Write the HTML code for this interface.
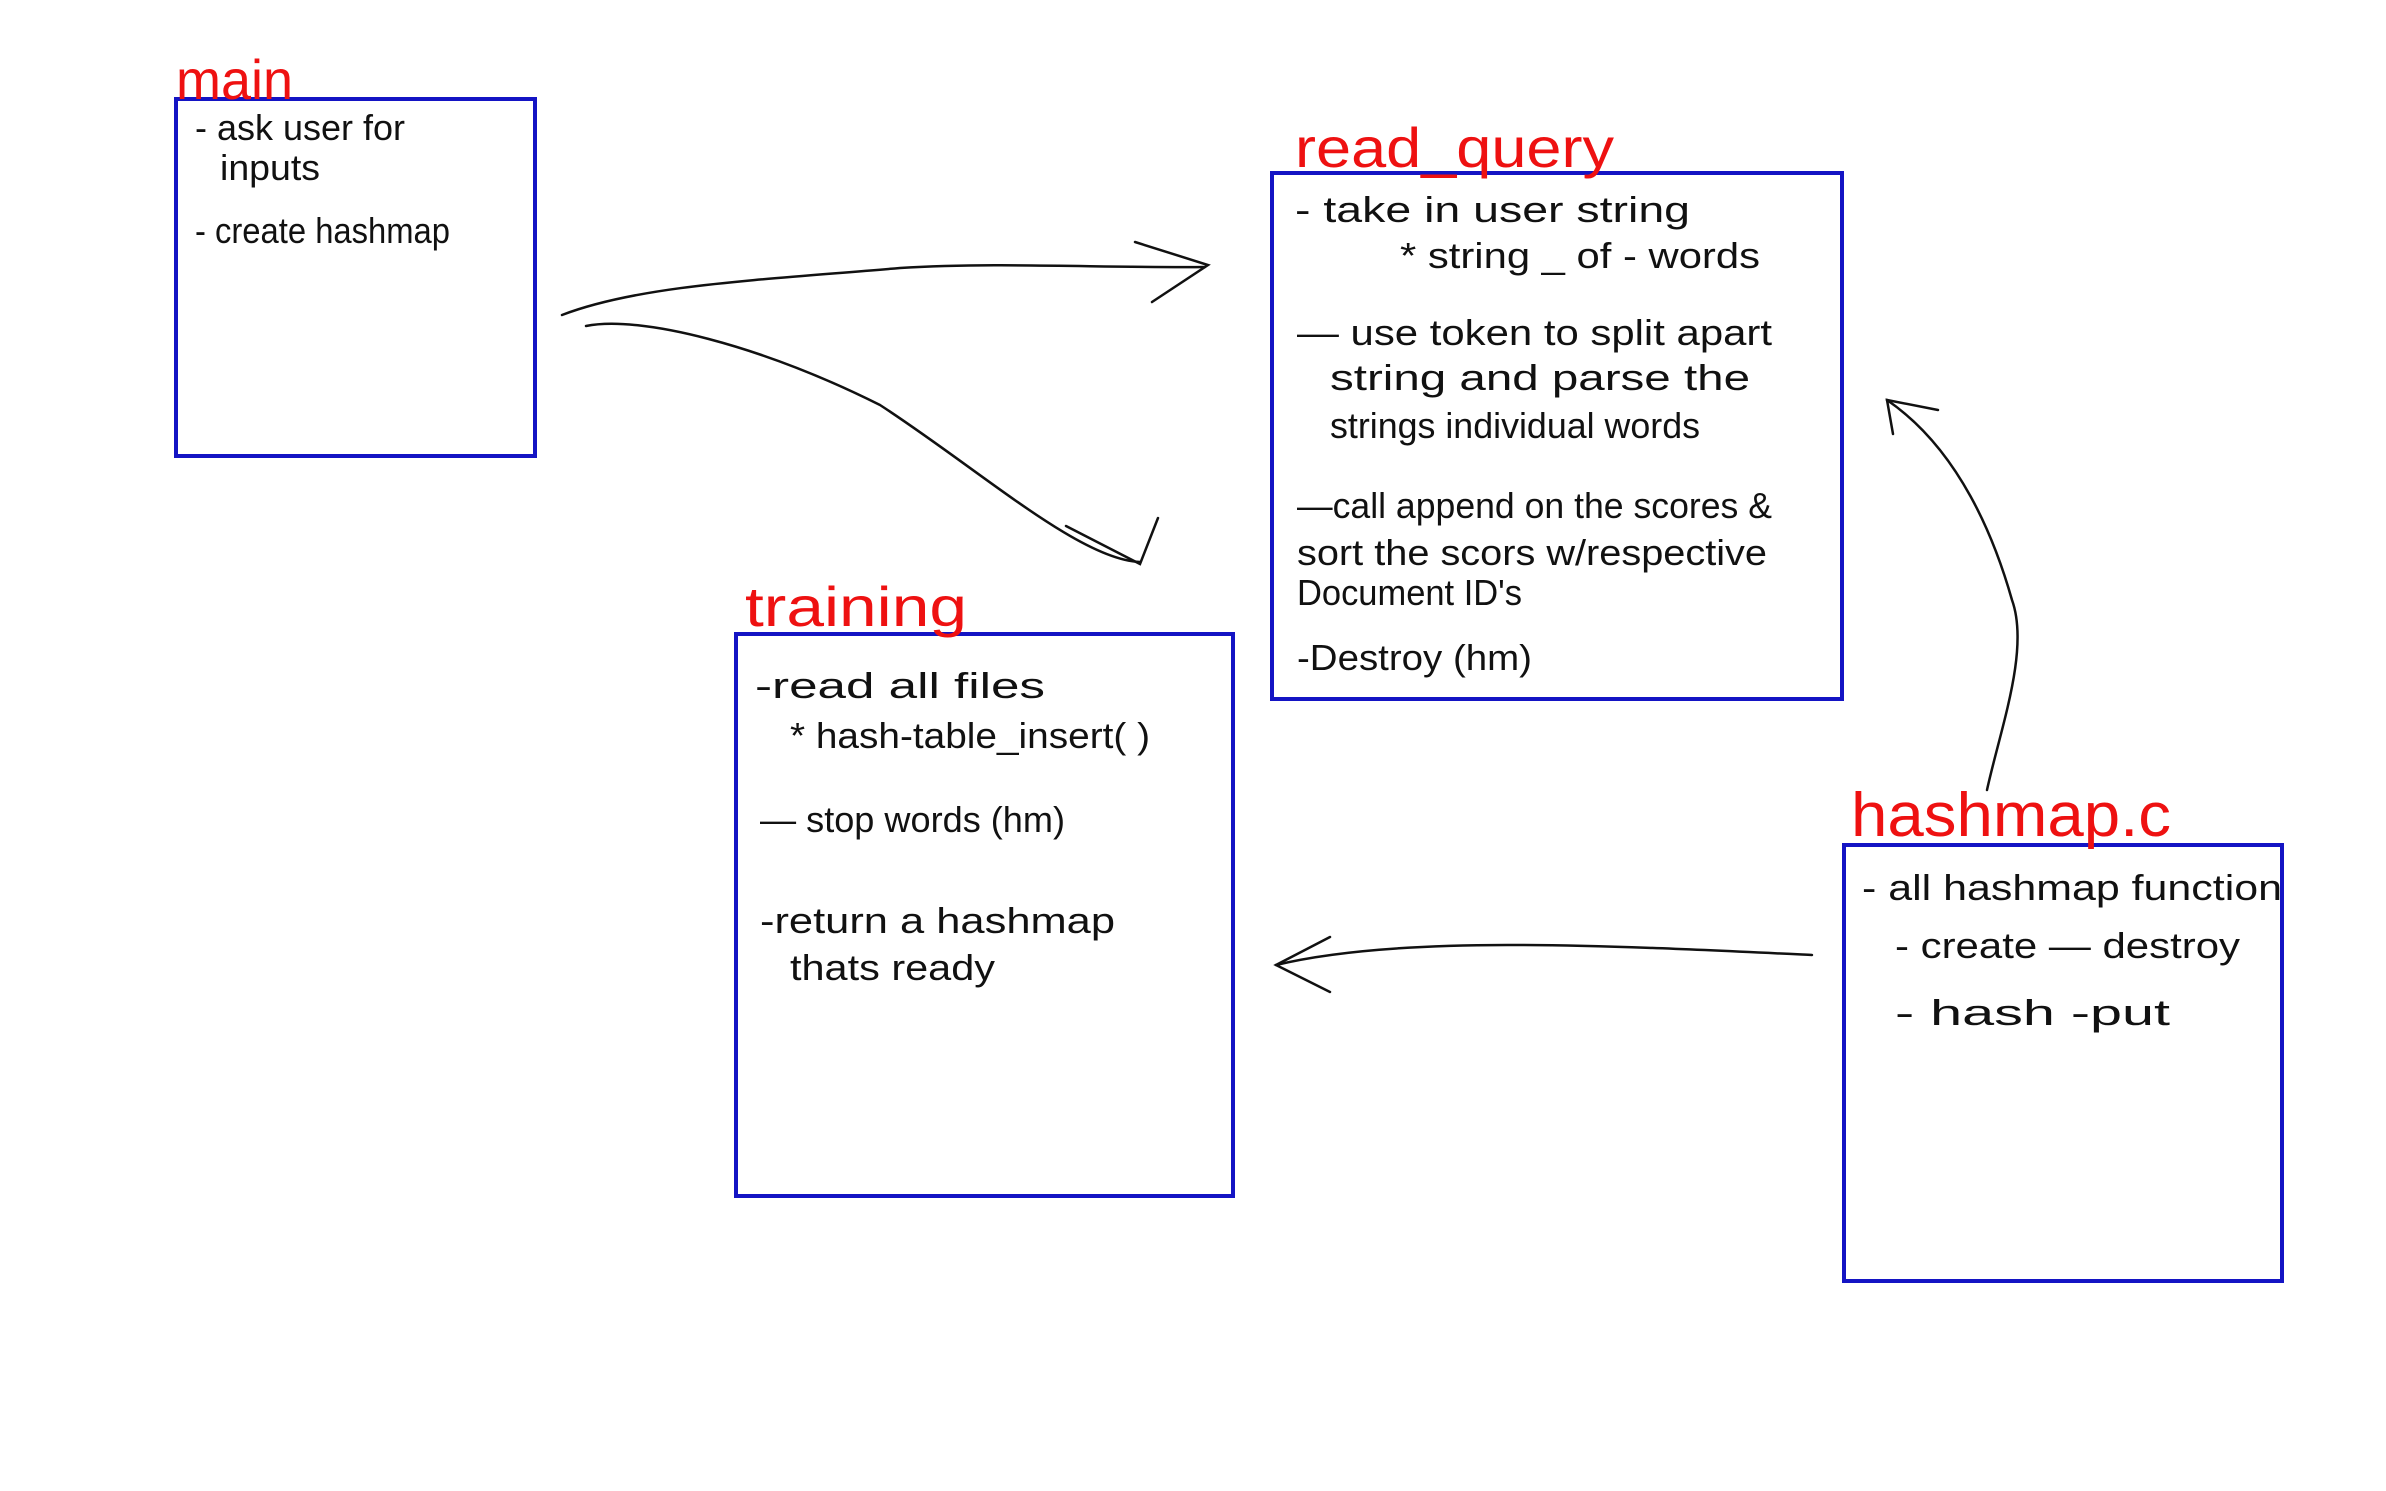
<!DOCTYPE html>
<html><head><meta charset="utf-8"><style>
html,body{margin:0;padding:0;background:#fff;}
svg{display:block}
text{font-family:"Liberation Sans",sans-serif;}
.l{fill:#ee1111;font-size:56px;}
.t{fill:#111;font-size:36px;}
</style></head><body>
<svg width="2386" height="1491" viewBox="0 0 2386 1491" xmlns="http://www.w3.org/2000/svg">
<g fill="none" stroke="#1414c4" stroke-width="4">
<rect x="176" y="99" width="359" height="357"/>
<rect x="1272" y="173" width="570" height="526"/>
<rect x="736" y="634" width="497" height="562"/>
<rect x="1844" y="845" width="438" height="436"/>
</g>
<g fill="none" stroke="#111" stroke-width="2.5" stroke-linecap="round">
<path d="M562,315 C640,285 760,280 900,268 C1000,262 1100,268 1205,267"/>
<path d="M1135,242 L1208,265 L1152,302"/>
<path d="M586,326 C640,315 760,345 880,405 C980,470 1080,560 1140,562"/>
<path d="M1066,526 L1140,564 L1158,518"/>
<path d="M1987,790 C2000,730 2030,650 2012,600 C1995,540 1960,450 1887,400"/>
<path d="M1938,410 L1887,400 L1893,434"/>
<path d="M1812,955 C1600,945 1400,935 1276,965"/>
<path d="M1330,937 L1276,965 L1330,992"/>
</g>
<text class="l" x="176" y="99" textLength="117" lengthAdjust="spacingAndGlyphs">main</text>
<text class="l" x="1295" y="167" textLength="319" lengthAdjust="spacingAndGlyphs">read_query</text>
<text class="l" x="745" y="626" textLength="222" lengthAdjust="spacingAndGlyphs">training</text>
<text class="l" x="1851" y="836" textLength="320" lengthAdjust="spacingAndGlyphs" style="font-size:62px">hashmap.c</text>
<g class="t">
<text x="195" y="140" textLength="210" lengthAdjust="spacingAndGlyphs">- ask user for</text>
<text x="220" y="180" textLength="100" lengthAdjust="spacingAndGlyphs">inputs</text>
<text x="195" y="243" textLength="255" lengthAdjust="spacingAndGlyphs">- create hashmap</text>
<text x="1295" y="222" textLength="395" lengthAdjust="spacingAndGlyphs">- take in user string</text>
<text x="1400" y="268" textLength="360" lengthAdjust="spacingAndGlyphs">* string _ of - words</text>
<text x="1297" y="345" textLength="475" lengthAdjust="spacingAndGlyphs">— use token to split apart</text>
<text x="1330" y="390" textLength="420" lengthAdjust="spacingAndGlyphs">string and parse the</text>
<text x="1330" y="438" textLength="370" lengthAdjust="spacingAndGlyphs">strings individual words</text>
<text x="1297" y="518" textLength="475" lengthAdjust="spacingAndGlyphs">—call append on the scores &amp;</text>
<text x="1297" y="565" textLength="470" lengthAdjust="spacingAndGlyphs">sort the scors w/respective</text>
<text x="1297" y="605" textLength="225" lengthAdjust="spacingAndGlyphs">Document ID's</text>
<text x="1297" y="670" textLength="235" lengthAdjust="spacingAndGlyphs">-Destroy (hm)</text>
<text x="755" y="698" textLength="290" lengthAdjust="spacingAndGlyphs">-read all files</text>
<text x="790" y="748" textLength="360" lengthAdjust="spacingAndGlyphs">* hash-table_insert( )</text>
<text x="760" y="832" textLength="305" lengthAdjust="spacingAndGlyphs">— stop words (hm)</text>
<text x="760" y="933" textLength="355" lengthAdjust="spacingAndGlyphs">-return a hashmap</text>
<text x="790" y="980" textLength="205" lengthAdjust="spacingAndGlyphs">thats ready</text>
<text x="1862" y="900" textLength="420" lengthAdjust="spacingAndGlyphs">- all hashmap function</text>
<text x="1895" y="958" textLength="345" lengthAdjust="spacingAndGlyphs">- create — destroy</text>
<text x="1895" y="1025" textLength="275" lengthAdjust="spacingAndGlyphs">- hash  -put</text>
</g>
</svg>
</body></html>
